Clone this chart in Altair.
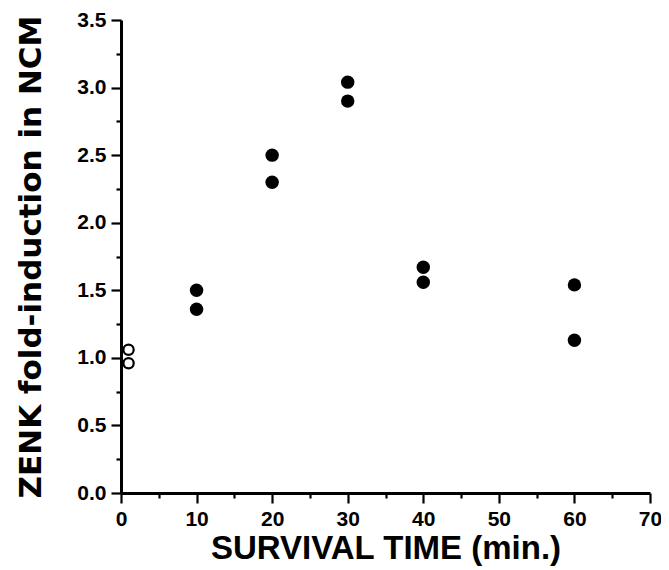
import altair as alt
import pandas as pd

# Data
x_open = [1, 1]
y_open = [1.06, 0.96]
x_filled = [10, 10, 20, 20, 30, 30, 40, 40, 60, 60]
y_filled = [1.50, 1.36, 2.50, 2.30, 3.04, 2.90, 1.67, 1.56, 1.54, 1.13]

x_tick_values = [0, 5, 10, 15, 20, 25, 30, 35, 40, 45, 50, 55, 60, 65, 70]
y_tick_values = [0, 0.25, 0.5, 0.75, 1.0, 1.25, 1.5, 1.75, 2.0, 2.25, 2.5,
                 2.75, 3.0, 3.25, 3.5]

df_filled = pd.DataFrame({"t": x_filled, "v": y_filled})
df_open = pd.DataFrame({"t": x_open, "v": y_open})

label_font = "Liberation Sans"

x_axis = alt.Axis(
    title="SURVIVAL TIME (min.)",
    values=x_tick_values,
    labelExpr="datum.value % 10 === 0 ? datum.label : ''",
    tickSize=alt.condition("datum.value % 10 !== 0", alt.value(5), alt.value(10)),
    tickWidth=2.2,
    tickColor="black",
    domainColor="black",
    domainWidth=3,
    grid=False,
    labelFont=label_font,
    labelFontSize=21,
    labelFontWeight="bold",
    labelColor="black",
    labelPadding=5,
    labelFlush=False,
    labelOverlap=False,
    titleFont=label_font,
    titleFontSize=33,
    titleFontWeight="bold",
    titleColor="black",
    titlePadding=3,
)

y_axis = alt.Axis(
    title="ZENK fold-induction in NCM",
    values=y_tick_values,
    format=".1f",
    labelExpr="datum.value % 0.5 === 0 ? datum.label : ''",
    tickSize=alt.condition("datum.value % 0.5 !== 0", alt.value(5), alt.value(10)),
    tickWidth=2.2,
    tickColor="black",
    domainColor="black",
    domainWidth=3,
    grid=False,
    labelFont=label_font,
    labelFontSize=21,
    labelFontWeight="bold",
    labelColor="black",
    labelPadding=5,
    labelOverlap=False,
    titleFont="DejaVu Sans",
    titleFontSize=31,
    titleFontWeight="bold",
    titleColor="black",
    titlePadding=29,
)

x_enc = alt.X("t:Q", scale=alt.Scale(domain=[0, 70], nice=False), axis=x_axis)
y_enc = alt.Y("v:Q", scale=alt.Scale(domain=[0, 3.5], nice=False), axis=y_axis)

filled = alt.Chart(df_filled).mark_circle(size=180, color="black", opacity=1).encode(
    x=x_enc, y=y_enc
)
hollow = alt.Chart(df_open).mark_point(
    shape="circle", filled=False, color="black", strokeWidth=2.2, size=105, opacity=1
).encode(x=x_enc, y=y_enc)

chart = (
    alt.layer(filled, hollow)
    .properties(
        width=529,
        height=473,
        autosize="none",
        padding={"left": 113, "top": 12, "right": 11, "bottom": 76},
        background="white",
    )
    .configure_view(strokeWidth=0)
)

chart.save("out.html", embed_options={"renderer": "svg", "actions": False})
